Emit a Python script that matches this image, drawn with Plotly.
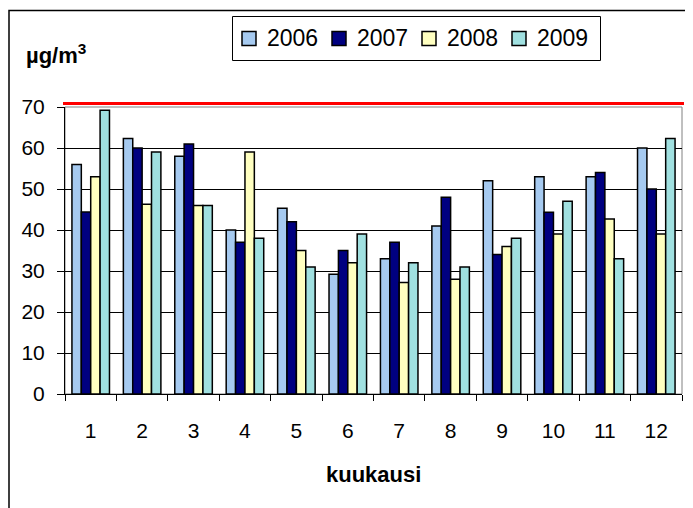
import plotly.graph_objects as go

MONTHS = [str(m) for m in range(1, 13)]
Y2006 = [56, 62.3, 58, 40, 45.3, 29.2, 33, 41, 52, 53, 53, 60]
Y2007 = [44.4, 60, 61, 37, 42, 35, 37, 48, 34, 44.3, 54, 50]
Y2008 = [53, 46.3, 46, 59, 35, 32, 27.2, 28, 36, 39, 42.7, 39]
Y2009 = [69.2, 59, 46, 38, 31, 39, 32, 31, 38, 47, 33, 62.3]
LIMIT = 70

SERIES = [
    ('2006', Y2006, '#A6CAF0'),
    ('2007', Y2007, '#000080'),
    ('2008', Y2008, '#FFFFC0'),
    ('2009', Y2009, '#A0E0E0'),
]

FONT = 'Arial, Liberation Sans, sans-serif'

# page is 693x508, but the body has an 8px margin, so the figure is shrunk to fit
OFF = 8
W, H = 693 - OFF, 508 - OFF
# plot area in page pixels
X0, X1, Y0, Y1 = 65, 682, 107, 394
PW, PH = X1 - X0, Y1 - Y0


def px(x):
    return (x - X0) / PW


def py(y):
    return (Y1 - y) / PH


fig = go.Figure()
for name, vals, color in SERIES:
    fig.add_trace(go.Bar(
        x=MONTHS, y=vals, name=name,
        marker=dict(color=color, line=dict(color='#000000', width=1.5)),
    ))

shapes = [
    # plot area border (grey)
    dict(type='rect', xref='paper', yref='paper', x0=0, x1=1, y0=0, y1=1,
         line=dict(color='#808080', width=1), layer='below'),
    # limit line
    dict(type='line', xref='paper', yref='paper', x0=px(63), x1=px(684),
         y0=py(103.5), y1=py(103.5), line=dict(color='#FF0000', width=3)),
    # outer chart frame (left edge sits on the figure's own edge)
    dict(type='rect', xref='paper', yref='paper', x0=px(OFF + 1), x1=px(720),
         y0=py(540), y1=py(10.5), line=dict(color='#000000', width=1.5)),
    # legend box
    dict(type='rect', xref='paper', yref='paper', x0=px(232.5), x1=px(600.5),
         y0=py(60.5), y1=py(16.5), line=dict(color='#000000', width=1),
         fillcolor='white'),
]
annotations = [
    dict(text='<b>µg/m<sup>3</sup></b>', xref='paper', yref='paper',
         x=px(24), y=py(54), xanchor='left', yanchor='middle',
         showarrow=False, font=dict(size=22)),
    dict(text='<b>kuukausi</b>', xref='paper', yref='paper',
         x=0.5, y=py(474), xanchor='center', yanchor='middle',
         showarrow=False, font=dict(size=22)),
]
for i, (name, _, color) in enumerate(SERIES):
    sx = 242 + i * 90
    shapes.append(dict(type='rect', xref='paper', yref='paper',
                       x0=px(sx), x1=px(sx + 14), y0=py(45.5), y1=py(31.5),
                       fillcolor=color, line=dict(color='#000000', width=1.5)))
    annotations.append(dict(text=name, xref='paper', yref='paper',
                            x=px(sx + 23), y=py(37.5), xanchor='left', yanchor='middle',
                            showarrow=False, font=dict(size=23)))

fig.update_layout(
    width=W, height=H,
    margin=dict(l=X0 - OFF, r=W + OFF - X1, t=Y0 - OFF, b=H + OFF - Y1),
    paper_bgcolor='white', plot_bgcolor='white',
    font=dict(family=FONT, size=21, color='#000000'),
    barmode='group', bargap=0.27, bargroupgap=0,
    showlegend=False,
    xaxis=dict(
        type='category', showline=True, linecolor='#000000', linewidth=1,
        ticks='outside', tickson='boundaries', ticklen=6, tickcolor='#000000',
        showgrid=False, ticklabelstandoff=18,
    ),
    yaxis=dict(
        range=[0, LIMIT], dtick=10, showline=True, linecolor='#000000', linewidth=1,
        ticks='outside', ticklen=7, tickcolor='#000000',
        showgrid=True, gridcolor='#000000', gridwidth=1,
        ticklabelstandoff=8, zeroline=False,
    ),
    shapes=shapes,
    annotations=annotations,
)

fig.write_html('out.html')
